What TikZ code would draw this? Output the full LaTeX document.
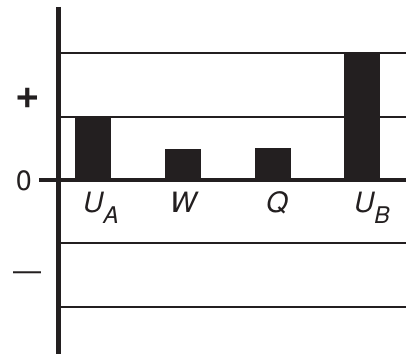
\documentclass[tikz,border=0pt]{standalone}
\usepackage{fontspec}
\setmainfont{TeX Gyre Heros}
\definecolor{ink}{HTML}{231F20}

\begin{document}
\begin{tikzpicture}[x=0.5pt,y=0.5pt,
  grid/.style={draw=ink,line width=1.25pt},
  bar/.style={fill=ink,draw=none,inner sep=0pt,minimum width=18pt,anchor=south},
  lbl/.style={font=\fontsize{14}{16}\selectfont\itshape,text=ink,inner sep=0pt,anchor=base},
  sgn/.style={font=\fontsize{14}{16}\selectfont,text=ink,inner sep=0pt}]
  \useasboundingbox (0,0) rectangle (406,356);
  % levels
  \draw[grid] (58,303) -- (406,303);
  \draw[grid] (58,239) -- (406,239);
  \draw[grid] (58,113) -- (406,113);
  \draw[grid] (58,49) -- (406,49);
  \draw[draw=ink,line width=2pt] (39,176) -- (406,176);
  \draw[draw=ink,line width=2.5pt] (58,349) -- (58,2);
  % bars
  \node[bar,minimum height=31.5pt] (ua) at (93,176) {};
  \node[bar,minimum height=15.5pt] (w) at (183,176) {};
  \node[bar,minimum height=16pt] (q) at (273,176) {};
  \node[bar,minimum height=63.5pt] (ub) at (362,176) {};
  % labels
  \coordinate (base) at (0,143);
  \node[lbl,xshift=4] (ualbl) at (ua |- base) {U\raisebox{-5.5pt}{\fontsize{11.5}{13}\selectfont A}};
  \node[lbl] (wlbl) at (w |- base) {W};
  \node[lbl,xshift=2] (qlbl) at (q |- base) {Q};
  \node[lbl,xshift=5] (ublbl) at (ub |- base) {U\raisebox{-5.5pt}{\fontsize{11.5}{13}\selectfont B}};
  % signs
  \node[sgn,font=\fontsize{21}{23}\selectfont\bfseries] (plus) at (28,258) {+};
  \node[sgn] (zero) at (24,175) {0};
  \node[sgn] (minus) at (27,80) {—};
\end{tikzpicture}
\end{document}
